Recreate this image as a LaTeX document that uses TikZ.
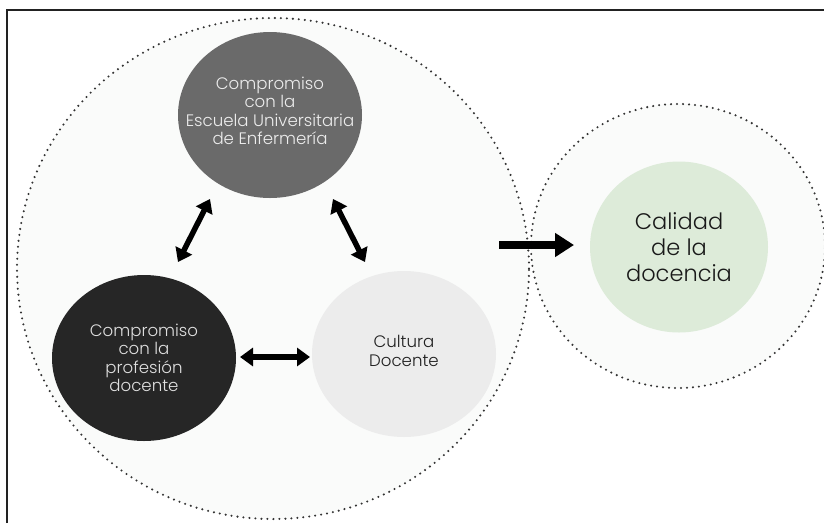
\documentclass[tikz,border=0pt]{standalone}
\usepackage{fontspec}
\setmainfont{Poppins}[UprightFont=* Light]
\usetikzlibrary{arrows.meta,shapes.geometric}
\definecolor{frameline}{HTML}{222222}
\definecolor{haze}{HTML}{FAFBFA}
\definecolor{dotline}{HTML}{333333}
\definecolor{midgray}{HTML}{6A6A6A}
\definecolor{darkfill}{HTML}{262626}
\definecolor{lightfill}{HTML}{ECECEC}
\definecolor{softgreen}{HTML}{DDEBD9}
\tikzset{
  zone/.style={ellipse, fill=haze, inner sep=0pt},
  zoneedge/.style={ellipse, draw=dotline, line width=2.3pt, line cap=round,
    dash pattern=on 0pt off 6pt, inner sep=0pt},
  labeltext/.style={align=center, font=\fontsize{16.6}{18.5}\selectfont},
  topic/.style={ellipse, inner sep=0pt, minimum width=184pt, minimum height=166pt, labeltext},
  twoway/.style={line width=5.5pt, {Triangle[length=13pt,width=18pt]}-{Triangle[length=13pt,width=18pt]}},
  oneway/.style={line width=8pt, -{Triangle[length=19pt,width=23pt]}}
}
\begin{document}
\begin{tikzpicture}[x=1pt,y=-1pt]
\useasboundingbox (0,0) rectangle (824,523);
\fill[white] (0,0) rectangle (824,523);
% outer frame (top and left edges)
\draw[frameline, line width=2pt] (7,523) -- (7,10) -- (824,10);

% dotted zones
\node[zone, minimum width=512pt, minimum height=501pt] (bigzone) at (273,268.5) {};
\node[zone, minimum width=294pt, minimum height=284pt] (goalzone) at (678,246) {};
\node[zoneedge, minimum width=512pt, minimum height=501pt] at (bigzone) {};
\node[zoneedge, minimum width=294pt, minimum height=284pt] at (goalzone) {};

% the three commitments
\node[topic, fill=midgray] (escuela) at (270,115) {};
\node[labeltext, text=white!93!black] at ([yshift=4pt]escuela.center)
  {Compromiso\\con la\\Escuela Universitaria\\de Enfermería};
\node[topic, fill=darkfill, text=white!88!black] (profesion) at (144,358)
  {Compromiso\\con la\\profesión\\docente};
\node[topic, fill=lightfill] (cultura) at (404,354) {};
\node[labeltext, text=black!88] at ([yshift=3pt]cultura.center) {Cultura\\Docente};

% outcome
\node[ellipse, inner sep=0pt, minimum width=178pt, minimum height=171pt,
  fill=softgreen, align=center, text=black!90,
  font=\fontsize{22.5}{26}\selectfont] (calidad) at (679,247)
  {Calidad\\de la\\docencia};

% arrow end points
\coordinate (e1a) at (210,199); \coordinate (e1b) at (178,262);
\coordinate (e2a) at (333,199); \coordinate (e2b) at (365,262);
\coordinate (e3a) at (240,357); \coordinate (e3b) at (310,357);
\coordinate (e4a) at (499,245); \coordinate (e4b) at (574,245);

\draw[twoway] (e1a) -- (e1b);
\draw[twoway] (e2a) -- (e2b);
\draw[twoway] (e3a) -- (e3b);
\draw[oneway] (e4a) -- (e4b);
\end{tikzpicture}
\end{document}
